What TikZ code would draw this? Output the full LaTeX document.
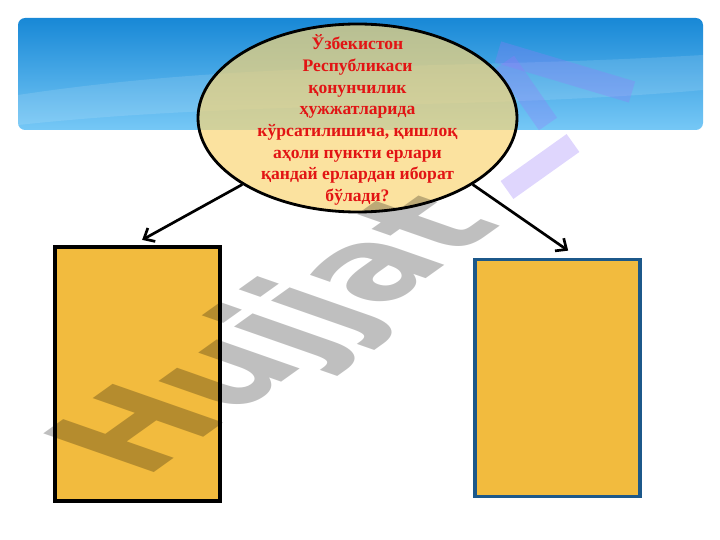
\documentclass[tikz,border=0pt]{standalone}
\usepackage{fontspec}
\setmainfont{Liberation Serif}
\newfontfamily\belgifont{DejaVu Sans}
\usetikzlibrary{shapes.geometric,arrows.meta,positioning}

\definecolor{bannertop}{RGB}{24,136,214}
\definecolor{bannerbot}{RGB}{118,200,246}
\definecolor{savolfill}{RGB}{250,214,118}
\definecolor{savoltext}{RGB}{226,20,20}
\definecolor{javobfill}{RGB}{242,187,62}
\definecolor{javobblue}{RGB}{28,88,138}
\definecolor{logoviolet}{RGB}{150,120,250}

\tikzstyle{savol}=[shape=ellipse,draw=black,line width=2.4pt,fill=savolfill,fill opacity=0.7,
  minimum width=9.57cm,minimum height=5.64cm,inner sep=0pt]
\tikzstyle{savolmatn}=[align=center,text=savoltext,inner sep=0pt,
  font=\bfseries\fontsize{15}{18.5}\selectfont]
\tikzstyle{javob}=[shape=rectangle,fill=javobfill,minimum width=4.95cm,inner sep=0pt]
\tikzstyle{strelka}=[-{Straight Barb[length=2.6mm,width=4.6mm]},line width=2.3pt]
\tikzstyle{logo}=[draw=logoviolet,draw opacity=0.3,line width=0.66cm]

\begin{document}
\begin{tikzpicture}[x=0.03cm,y=-0.03cm]
\useasboundingbox (0,0) rectangle (720,540);
% banner
\shade[top color=bannertop,bottom color=bannerbot,rounded corners=6pt] (18,18) rectangle (703,130);
\fill[white,opacity=0.12] (18,95) .. controls (250,60) and (450,70) .. (703,55) -- (703,90)
  .. controls (480,110) and (250,100) .. (18,125) -- cycle;
% logo
\draw[logo] (498,52) -- (632,92);
\draw[logo] (505,62) -- (548,124);
\draw[logo] (507,190) -- (573,143);
% question
\node[savol] (savol) at (357.5,118) {};
\node[savolmatn] (savolmatn) at ([yshift=-0.06cm]savol.center) {Ўзбекистон\\ Республикаси\\ қонунчилик\\ ҳужжатларида\\
  кўрсатилишича, қишлоқ\\ аҳоли пункти ерлари\\ қандай ерлардан иборат\\ бўлади?};
% answers
\node[javob,draw=black,line width=3.6pt,minimum height=7.62cm] (chap) at (137.5,374) {};
\node[javob,draw=javobblue,line width=2.6pt,minimum height=7.11cm] (ong) at (557.5,378) {};
\draw[strelka] (savol.210) -- ([xshift=0.14cm,yshift=0.15cm]chap.north);
\draw[strelka] (savol.330) -- ([xshift=0.32cm,yshift=0.22cm]ong.north);
% watermark
\begin{scope}[blend mode=multiply,shift={(283,337)},xscale=2]
\node[rotate=55,transform shape,text=gray!50,font=\belgifont\bfseries\fontsize{79}{79}\selectfont] (belgi) {Hujjat};
\end{scope}
\end{tikzpicture}
\end{document}
